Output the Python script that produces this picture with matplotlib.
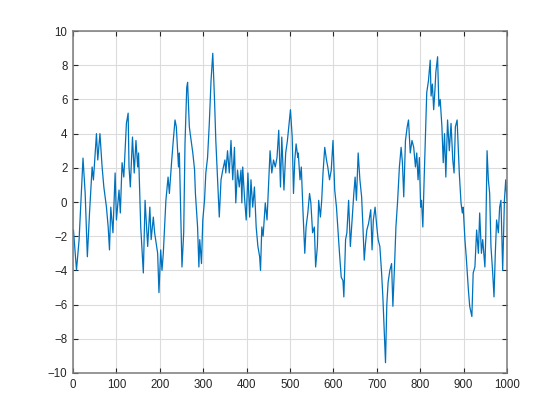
import numpy as np
import matplotlib
matplotlib.use("Agg")
import matplotlib.pyplot as plt

# values (sample index, value)
idx = [1, 8, 14, 18, 23, 28, 33, 38, 44, 47, 54, 57, 62, 67, 71, 77, 81, 84, 87, 92,
       97, 100, 106, 109, 113, 117, 123, 127, 129, 132, 137, 141, 145, 149, 151, 156,
       162, 166, 172, 177, 180, 185, 188, 195, 198, 202, 205, 208, 214, 219, 222, 227,
       231, 235, 238, 243, 245, 251, 255, 258, 262, 264, 268, 270, 276, 280, 282, 287,
       290, 292, 296, 299, 303, 306, 310, 314, 318, 322, 326, 329, 333, 337, 341, 345,
       350, 352, 356, 360, 364, 368, 372, 375, 379, 383, 387, 389, 391, 395, 399, 403,
       407, 410, 414, 418, 422, 426, 430, 432, 435, 438, 443, 447, 451, 454, 458, 462,
       466, 470, 474, 478, 481, 486, 490, 494, 497, 501, 505, 508, 511, 514, 518, 519,
       523, 526, 530, 534, 537, 541, 545, 548, 552, 556, 559, 563, 566, 570, 573, 576,
       580, 584, 587, 591, 595, 599, 603, 607, 610, 614, 618, 622, 624, 628, 631, 635,
       639, 643, 647, 650, 653, 657, 661, 665, 668, 671, 674, 677, 681, 686, 689, 692,
       696, 700, 703, 707, 711, 714, 720, 723, 726, 730, 734, 737, 741, 744, 748, 752,
       756, 759, 762, 766, 770, 773, 777, 781, 785, 789, 792, 795, 798, 801, 803, 806,
       809, 812, 815, 819, 823, 825, 828, 831, 834, 836, 840, 843, 846, 850, 853, 856,
       859, 863, 867, 871, 875, 878, 881, 885, 890, 894, 897, 899, 903, 906, 911, 914,
       919, 922, 926, 930, 934, 937, 941, 944, 949, 951, 954, 957, 960, 963, 967, 970,
       973, 976, 980, 983, 986, 990, 994, 997, 1000]
vals = [-1.64, -3.98, -2.2, -0.05, 2.57, 0.5, -3.2, -0.64, 2.05, 1.29, 4.0, 2.46, 4.0,
        2.05, 0.88, -0.3, -1.46, -2.8, -0.3, -1.8, 1.7, -1.05, 0.7, -0.64, 2.3, 1.46,
        4.6, 5.2, 2.05, 0.88, 3.8, 1.7, 3.6, 2.05, 2.87, -1.46, -4.15, 0.1, -2.6, -0.3,
        -2.2, -0.88, -1.8, -3.0, -5.3, -2.8, -4.0, -3.0, 0.1, 1.46, 0.5, 2.3, 3.6, 4.8,
        4.4, 2.05, 2.87, -3.8, -1.8, 3.4, 6.7, 7.0, 4.4, 4.0, 2.87, 1.9, 0.5, -1.46,
        -3.8, -2.2, -3.6, -1.05, 0.1, 1.7, 2.6, 4.6, 7.1, 8.7, 6.0, 3.6, 1.3, -0.88,
        1.3, 1.87, 2.46, 1.7, 3.0, 1.7, 3.6, 1.3, 3.2, -0.05, 1.87, 0.88, 1.87, -0.05,
        2.05, 0.3, -1.05, 1.7, -0.88, 1.3, -0.3, 0.88, -1.46, -2.6, -3.2, -4.0, -1.46,
        -2.0, -0.05, -1.05, 1.3, 3.0, 1.7, 2.46, 2.05, 2.6, 4.2, 0.88, 3.8, 0.7, 2.87,
        3.6, 4.4, 5.4, 3.8, 0.5, 2.46, 3.4, 2.6, 2.87, 1.3, 2.05, -0.64, -3.0, -1.46,
        -0.64, 0.5, -0.05, -1.8, -1.46, -3.8, -2.6, 0.1, -0.88, 0.1, 1.7, 3.2, 2.46,
        2.05, 1.3, 1.87, 3.6, 0.7, -0.3, -1.46, -3.0, -4.4, -4.6, -5.55, -2.2, -1.8,
        0.1, -2.6, -1.05, 0.5, 1.46, 0.1, 2.87, 1.3, 0.3, -1.46, -3.4, -2.4, -1.64,
        -1.25, -0.45, -2.8, -1.05, -0.3, -1.46, -2.2, -2.6, -4.15, -5.6, -9.4, -6.0,
        -4.7, -4.0, -3.6, -6.1, -3.6, -1.46, 0.1, 2.05, 3.2, 2.3, 0.3, 3.6, 4.4, 4.8,
        2.87, 3.6, 3.2, 2.05, 2.87, 1.3, 2.6, -0.3, 0.1, -1.46, 1.3, 3.8, 6.4, 7.1,
        8.3, 6.2, 6.9, 5.4, 6.6, 7.6, 8.5, 5.6, 6.0, 4.4, 2.3, 4.0, 1.46, 4.8, 3.0,
        4.6, 2.46, 1.7, 4.4, 4.8, 1.7, -0.05, -0.64, -0.3, -2.2, -3.2, -5.15, -6.1,
        -6.7, -4.15, -3.8, -1.64, -3.0, -0.64, -3.0, -2.2, -3.8, -2.0, 3.0, 1.3, 0.5,
        -2.6, -4.15, -5.55, -3.0, -1.05, -1.8, -0.3, 0.1, -4.0, 0.1, 1.3, 0.1]

plt.rcParams['font.family'] = ['Liberation Sans', 'DejaVu Sans']

fig = plt.figure(figsize=(5.6, 4.2), dpi=100)
ax = fig.add_axes([0.1304, 0.112, 0.775, 0.814])

ax.plot(idx, vals, color='#0072BD', lw=0.9)

ax.set_xlim(0, 1000)
ax.set_ylim(-10, 10)
ax.set_xticks(np.arange(0, 1001, 100))
ax.set_yticks(np.arange(-10, 11, 2))
ax.grid(True, color='#dcdcdc', lw=0.8)
ax.set_axisbelow(True)

for s in ax.spines.values():
    s.set_color('#7a7a7a')
    s.set_linewidth(1.1)
ax.tick_params(direction='in', length=3.5, width=0.8, color='#262626',
               labelsize=8.3, labelcolor='#262626', top=True, right=True, pad=4)

fig.savefig("out.png", dpi=100)
